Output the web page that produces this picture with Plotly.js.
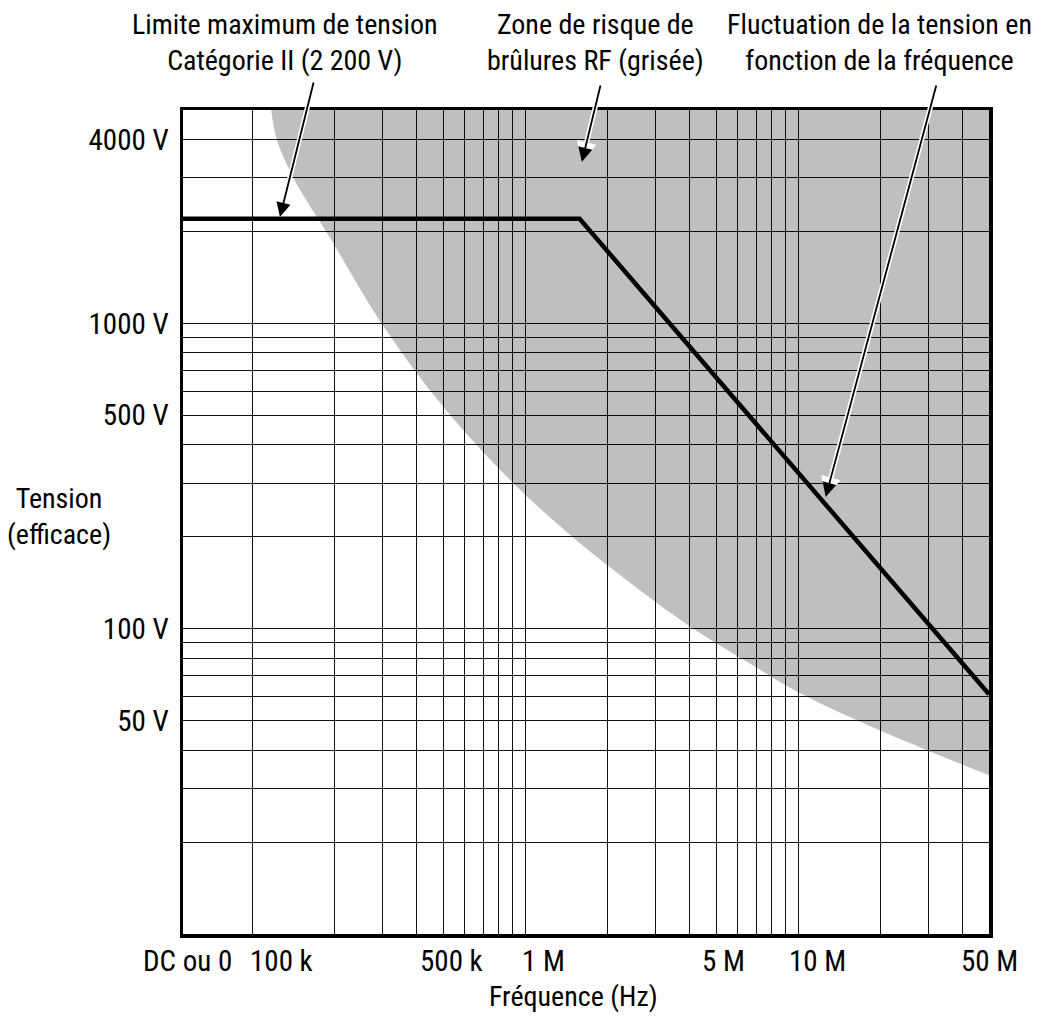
<!DOCTYPE html>
<html><head><meta charset="utf-8">
<script src="https://cdn.plot.ly/plotly-3.0.1.min.js"></script>
<style>html,body{margin:0;padding:0;background:#fff;}#chart{width:1041px;height:1020px;}</style>
</head><body><div id="chart"></div>
<script>
// ---- Data ----
const FREQ_MIN = 55600;   // left edge of the axis, labelled "DC ou 0"
const FREQ_MAX = 50e6;
const V_MIN = 10, V_MAX = 5000;

// Black curve: maximum voltage vs frequency
const limitFreq = [FREQ_MIN, 1.58e6, 50e6];
const limitVolt = [2200, 2200, 61];

// Boundary of the grey RF burn risk zone
const zoneFreq = [117e3, 123e3, 143e3, 192e3, 297e3, 507e3, 927e3, 1.58e6, 2.62e6, 4.06e6, 6.27e6, 10.3e6, 19.3e6, 29.6e6, 50e6];
const zoneVolt = [5000, 3970, 2930, 1910, 1000, 525, 293, 191, 134, 101, 79.4, 61.1, 47.0, 40.0, 33.1];

// Grid lines
const xGrid = [1e5,2e5,3e5,4e5,5e5,6e5,7e5,8e5,9e5,1e6,2e6,3e6,4e6,5e6,6e6,7e6,8e6,9e6,1e7,2e7,3e7,4e7];
const yGrid = [20,30,40,50,60,70,80,90,100,200,300,400,500,600,700,800,900,1000,2000,3000,4000];

// Tick labels
const yTickVals = [50, 100, 500, 1000, 4000];
const yTickText = ['50 V', '100 V', '500 V', '1000 V', '4000 V'];
const xTickVals = [FREQ_MIN, 1e5, 5e5, 1e6, 5e6, 1e7, 5e7];
const xTickText = ['DC ou 0', '100 k', '500 k', '1 M', '5 M', '10 M', '50 M'];

// ---- Style ----
const xTickNudge = [4, 29, 8, 18, 7, 19, 0];   // px shift of each x label
const FONT = "'Liberation Sans Narrow', 'Roboto Condensed', 'DejaVu Sans Condensed', 'Liberation Sans', sans-serif";
const L = 183, R = 52, T = 110, B = 86, W = 1041, H = 1020;
const PW = W - L - R, PH = H - T - B;
const px = x => (x - L) / PW;
const py = y => (H - B - y) / PH;
const lg = Math.log10;

const traces = [
  { // top edge of the zone (closing line for the fill)
    x: [zoneFreq[0], FREQ_MAX], y: [V_MAX, V_MAX],
    mode: 'lines', line: {width: 0, color: 'rgba(0,0,0,0)'}, hoverinfo: 'skip', showlegend: false
  },
  {
    x: zoneFreq, y: zoneVolt,
    mode: 'lines', fill: 'tonexty', fillcolor: 'rgba(0,0,0,0.25)',
    line: {width: 0, color: 'rgba(0,0,0,0)', shape: 'spline', smoothing: 1},
    hoverinfo: 'skip', showlegend: false
  },
  {
    x: limitFreq, y: limitVolt, mode: 'lines',
    line: {color: '#000', width: 4.5}, showlegend: false
  }
];

const ann = [];
const txt = (text, x, y, size) => ann.push({text, xref: 'paper', yref: 'paper', x: px(x), y: py(y),
  xanchor: 'center', yanchor: 'middle', align: 'center', showarrow: false,
  font: {family: FONT, size: size || 28, color: '#000'}});

txt('Limite maximum de tension<br>Catégorie II (2 200 V)', 285, 42);
txt('Zone de risque de<br>brûlures RF (grisée)', 595, 42);
txt('Fluctuation de la tension en<br>fonction de la fréquence', 879, 42);
txt('Tension<br>(efficace)', 59, 516);
txt('Fréquence (Hz)', 573, 996);

xTickVals.forEach((v, i) => ann.push({text: xTickText[i], xref: 'x', yref: 'paper', x: lg(v), y: 0,
  xanchor: 'center', yanchor: 'middle', yshift: -27, xshift: xTickNudge[i], showarrow: false,
  font: {family: FONT, size: 29, color: '#000'}}));

// arrows: tip in data coords, tail offset in px
const arrows = [
  {f: 126e3, v: 2230, ax: 34, ay: -136},
  {f: 1.61e6, v: 3380, ax: 19, ay: -78},
  {f: 12.6e6, v: 270, ax: 111, ay: -413}
];
arrows.forEach(a => ann.push({text: '', xref: 'x', yref: 'y', x: lg(a.f), y: lg(a.v), ax: a.ax, ay: a.ay,
  showarrow: true, arrowhead: 2, arrowwidth: 5, arrowsize: 0.8, arrowcolor: '#fff', standoff: 0}));
arrows.forEach(a => ann.push({text: '', xref: 'x', yref: 'y', x: lg(a.f), y: lg(a.v), ax: a.ax, ay: a.ay,
  showarrow: true, arrowhead: 2, arrowwidth: 1.8, arrowsize: 1.6, arrowcolor: '#000', standoff: 0}));

const layout = {
  width: W, height: H,
  margin: {l: L, r: R, t: T, b: B, pad: 0},
  paper_bgcolor: '#fff', plot_bgcolor: '#fff',
  font: {family: FONT, color: '#000', size: 29},
  showlegend: false,
  xaxis: {
    type: 'log', range: [lg(FREQ_MIN), lg(FREQ_MAX)],
    tickmode: 'array', tickvals: xGrid, showticklabels: false, ticks: '',
    showgrid: true, gridcolor: '#111', gridwidth: 1,
    showline: true, linecolor: '#000', linewidth: 3.5, mirror: true, zeroline: false
  },
  yaxis: {
    type: 'log', range: [lg(V_MIN), lg(V_MAX)],
    tickmode: 'array', tickvals: yGrid,
    ticktext: yGrid.map(v => { const i = yTickVals.indexOf(v); return i >= 0 ? yTickText[i] : ''; }),
    ticks: '', ticklabelstandoff: 5, tickfont: {family: FONT, size: 29, color: '#000'},
    showgrid: true, gridcolor: '#111', gridwidth: 1,
    showline: true, linecolor: '#000', linewidth: 3.5, mirror: true, zeroline: false
  },
  annotations: ann
};

Plotly.newPlot('chart', traces, layout, {staticPlot: true, displayModeBar: false});
</script>
</body></html>
